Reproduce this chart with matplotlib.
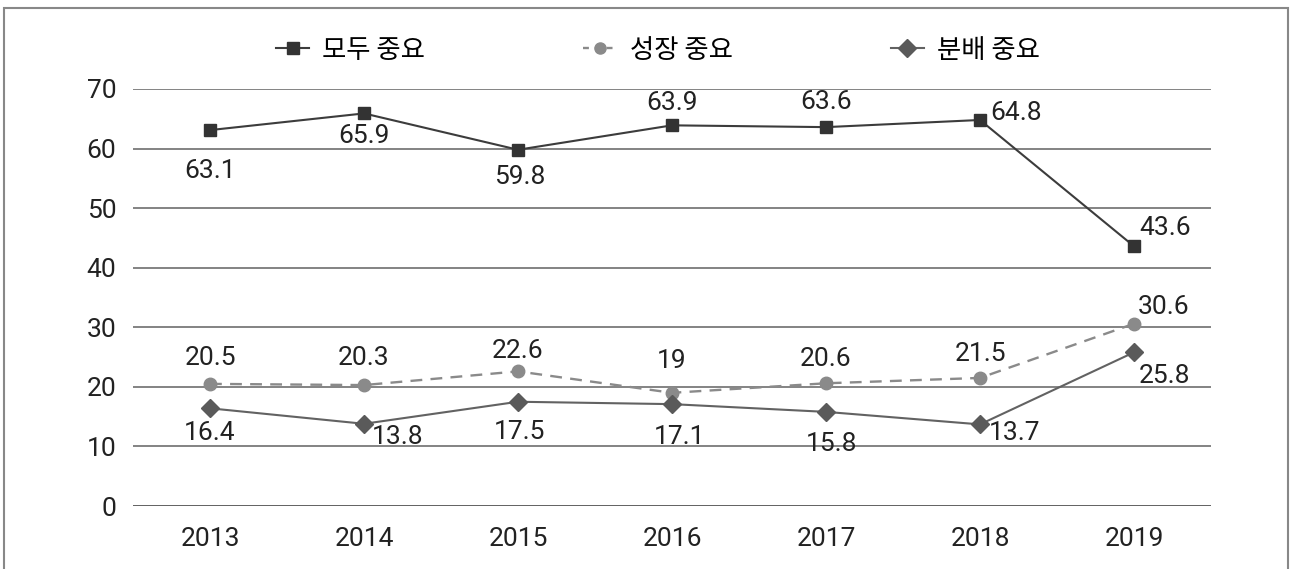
import matplotlib
matplotlib.use("Agg")
import matplotlib.pyplot as plt
from matplotlib.lines import Line2D
from matplotlib.patches import Rectangle

num_font = ['Roboto', 'Noto Sans CJK KR']
kr_font = ['Noto Sans CJK KR', 'DejaVu Sans']
plt.rcParams['font.family'] = kr_font

years = ["2013", "2014", "2015", "2016", "2017", "2018", "2019"]
both = [63.1, 65.9, 59.8, 63.9, 63.6, 64.8, 43.6]
growth = [20.5, 20.3, 22.6, 19, 20.6, 21.5, 30.6]
distrib = [16.4, 13.8, 17.5, 17.1, 15.8, 13.7, 25.8]
series_names = ["모두 중요", "성장 중요", "분배 중요"]
yticks = [0, 10, 20, 30, 40, 50, 60, 70]

# label offsets in pixels (layout only)
off_both = [(0, -41), (0, -23), (2, -27), (0, 22), (0, 25), (36, 7), (31, 18)]
off_growth = [(0, 26), (0, 27), (0, 20), (0, 32), (0, 24), (0, 24), (30, 17)]
off_dist = [(0, -25), (34, -13), (2, -30), (8, -33), (6, -32), (35, -9), (30, -24)]

W, H = 1290, 569
FS = 19
fig = plt.figure(figsize=(W / 100, H / 100), dpi=100)
ax = fig.add_axes([133 / W, 1 - 506 / H, (1211 - 133) / W, (506 - 89) / H])

x = list(range(len(years)))
ax.set_xlim(-0.5, len(years) - 0.5)
ax.set_ylim(0, 70)
ax.set_yticks(yticks)
ax.set_yticklabels([str(v) for v in yticks], family=num_font, fontsize=FS, color='#222222')
ax.set_xticks(x)
ax.set_xticklabels(years, family=num_font, fontsize=FS, color='#222222')
ax.tick_params(axis='both', length=0)
ax.tick_params(axis='y', pad=12)
ax.tick_params(axis='x', pad=15)
for s in ax.spines.values():
    s.set_visible(False)
for v in yticks:
    ax.axhline(v, color='#555555' if v == 0 else '#7a7a7a', lw=1.3, zorder=1)

c_both, c_growth, c_dist = '#3c3c3c', '#8a8a8a', '#626262'
ax.plot(x, both, color=c_both, lw=1.5, marker='s', ms=9, mfc='#333333', mec='#333333', zorder=3)
ax.plot(x, growth, color=c_growth, lw=1.7, ls=(0, (5, 3.5)), marker='o', ms=9, mfc='#8a8a8a', mec='#8a8a8a', zorder=3)
ax.plot(x, distrib, color=c_dist, lw=1.5, marker='D', ms=9, mfc='#5a5a5a', mec='#5a5a5a', zorder=3)

def labels(vals, offs):
    for xi, v, (dx, dy) in zip(x, vals, offs):
        ax.annotate(f"{v:g}", (xi, v), xytext=(dx, dy), textcoords='offset pixels',
                    ha='center', va='center', family=num_font, fontsize=FS, color='#222222', zorder=4)

labels(both, off_both)
labels(growth, off_growth)
labels(distrib, off_dist)

handles = [
    Line2D([], [], color=c_both, lw=1.5, marker='s', ms=9, mfc='#333333', mec='#333333'),
    Line2D([], [], color=c_growth, lw=1.7, ls=(0, (2.5, 2.5)), marker='o', ms=8, mfc='#8a8a8a', mec='#8a8a8a'),
    Line2D([], [], color=c_dist, lw=1.5, marker='D', ms=9, mfc='#5a5a5a', mec='#5a5a5a'),
]
fig.legend(handles, series_names, loc='center', bbox_to_anchor=(658 / W, 1 - 50 / H), ncol=3,
           frameon=False, prop={'family': kr_font, 'size': 19}, handlelength=1.25,
           handletextpad=0.5, columnspacing=6.0)

fig.patches.append(Rectangle((4 / W, -0.1), (1288 - 4) / W, 1.1 - 8 / H, transform=fig.transFigure,
                             fill=False, edgecolor='#888888', lw=1.5))

fig.savefig("out.png", dpi=100)
